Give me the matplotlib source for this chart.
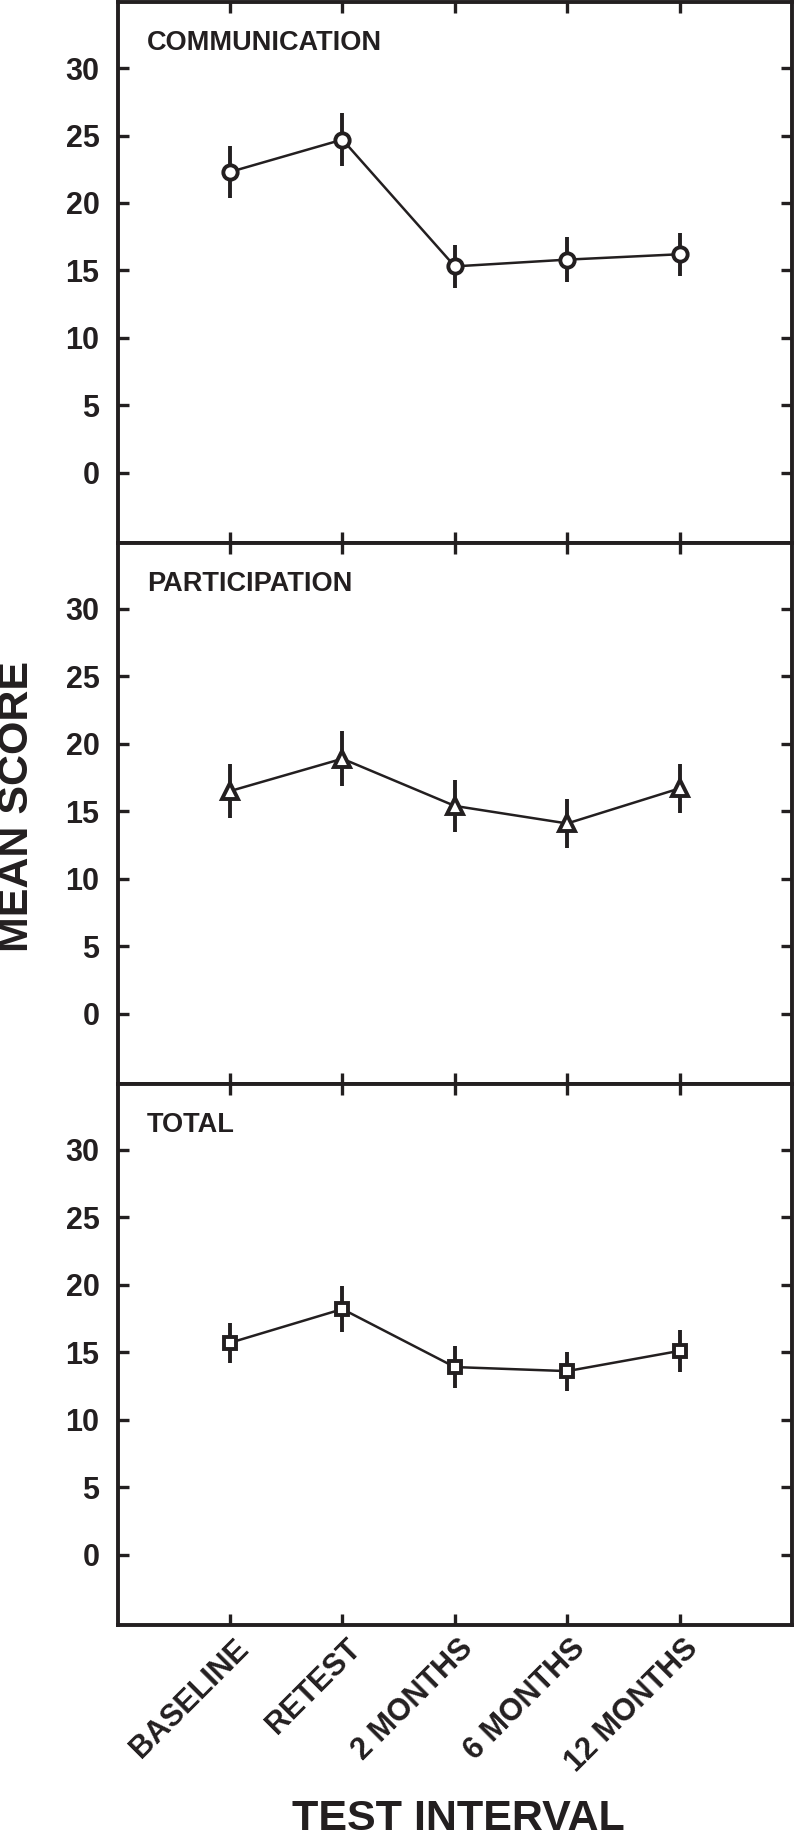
import matplotlib
matplotlib.use("Agg")
import matplotlib.pyplot as plt
from matplotlib.transforms import ScaledTranslation

plt.rcParams['font.family'] = ['Liberation Sans', 'DejaVu Sans']
plt.rcParams['font.weight'] = 'bold'

intervals = ["BASELINE", "RETEST", "2 MONTHS", "6 MONTHS", "12 MONTHS"]
panel_titles = ["COMMUNICATION", "PARTICIPATION", "TOTAL"]
communication = [22.3, 24.7, 15.3, 15.8, 16.2]
communication_err = [1.9, 1.95, 1.6, 1.65, 1.6]
participation = [16.5, 18.9, 15.4, 14.1, 16.7]
participation_err = [2.0, 2.05, 1.9, 1.85, 1.8]
total = [15.7, 18.2, 13.9, 13.6, 15.1]
total_err = [1.5, 1.7, 1.55, 1.45, 1.55]
markers = ['o', '^', 's']
yticks = [0, 5, 10, 15, 20, 25, 30]

series = [communication, participation, total]
errors = [communication_err, participation_err, total_err]

C = '#231f20'
W, H = 795, 1841
fig = plt.figure(figsize=(W / 100, H / 100), dpi=100)

left_px, right_px = 117.6, 792.0
top_px = 2.0
ph = 540.9
xs = list(range(1, len(intervals) + 1))
marker_sizes = {'o': 10.3, '^': 11.0, 's': 9.3}

axes = []
for i in range(3):
    t = top_px + i * ph
    ax = fig.add_axes([left_px / W, 1 - (t + ph) / H, (right_px - left_px) / W, ph / H])
    axes.append(ax)
    ax.errorbar(xs, series[i], yerr=errors[i], fmt='none', ecolor=C, elinewidth=2.8, capsize=0, zorder=2)
    ax.plot(xs, series[i], color=C, lw=1.8, zorder=3)
    ax.plot(xs, series[i], linestyle='none', marker=markers[i], markersize=marker_sizes[markers[i]],
            markerfacecolor='white', markeredgecolor=C, markeredgewidth=2.8, zorder=4)
    ax.set_xlim(0, 6)
    ax.set_ylim(-5.2, 34.9)
    ax.set_yticks(yticks)
    ax.set_xticks(xs)
    for s in ax.spines.values():
        s.set_linewidth(2.8)
        s.set_color(C)
    ax.tick_params(axis='both', direction='in', length=8, width=2.4, color=C,
                   top=True, right=True, labelsize=22, labelcolor=C)
    ax.tick_params(axis='y', pad=13)
    ax.text(0.0436, 0.948, panel_titles[i], transform=ax.transAxes, fontsize=19.5,
            fontweight='bold', color=C, ha='left', va='top')
    if i < 2:
        ax.set_xticklabels([])
    else:
        ax.set_xticklabels(intervals, rotation=45, ha='right', va='center',
                           rotation_mode='anchor', fontsize=22, fontweight='bold', color=C)
        ax.tick_params(axis='x', pad=14)
        off = ScaledTranslation(14 / 100, 0, fig.dpi_scale_trans)
        for lab in ax.get_xticklabels():
            lab.set_transform(lab.get_transform() + off)

fig.text(17 / W, 1 - 807 / H, "MEAN SCORE", rotation=90, ha='center', va='center',
         fontsize=31, fontweight='bold', color=C)
fig.text(458 / W, 1.5 / H, "TEST INTERVAL", ha='center', va='bottom',
         fontsize=31, fontweight='bold', color=C)

fig.savefig("out.png", dpi=100)
